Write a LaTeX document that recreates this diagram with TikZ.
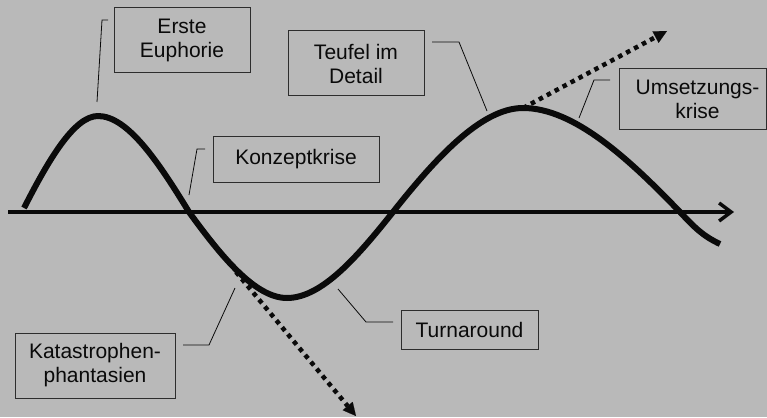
\documentclass[tikz,border=0pt]{standalone}
\usepackage{fontspec}
\setmainfont{Liberation Sans}
\usetikzlibrary{arrows.meta}
\definecolor{bg}{RGB}{185,185,185}
\definecolor{boxline}{RGB}{45,45,45}
\definecolor{ink}{RGB}{10,10,10}
\begin{document}
\begin{tikzpicture}[x=1pt,y=-1pt,
  font=\fontsize{21}{24}\selectfont,
  lbl/.style={draw=boxline, line width=1pt, fill=bg, align=center, inner sep=0pt, text=ink},
  callout/.style={line width=0.8pt, draw=ink},
  wave/.style={line width=6pt, line join=round, draw=ink},
  axisline/.style={line width=3.5pt, draw=ink, -{Straight Barb[length=12pt,width=18pt]}},
  dotarrow/.style={line width=4.5pt, draw=ink, dash pattern=on 4.5pt off 4.5pt,
     -{Triangle[length=13pt,width=13pt,line width=0.1pt]}}]
\fill[bg] (0,0) rectangle (767,417);
\useasboundingbox (0,0) rectangle (767,417);

% boxes
\node[lbl, minimum width=136pt, minimum height=65pt] (ee) at (182,40.5) {Erste\\Euphorie};
\node[lbl, minimum width=136pt, minimum height=65pt] (td) at (356,63.5) {Teufel im\\Detail};
\node[lbl, minimum width=166pt, minimum height=46pt] (kk) at (296,159) {Konzeptkrise};
\node[lbl, minimum width=147pt, minimum height=60pt] (uk) at (692.5,99) {\hspace*{10pt}Umsetzungs-\\\hspace*{10pt}krise};
\node[lbl, minimum width=160pt, minimum height=65pt] (kp) at (95,365.5) {Katastrophen-\\phantasien};
\node[lbl, minimum width=137pt, minimum height=39pt] (ta) at (469.5,329.5) {Turnaround};

% axis
\coordinate (ax0) at (8,212);
\coordinate (ax1) at (734,212);
\draw[axisline] (ax0) -- (ax1);

% wave
\coordinate (w0) at (24,208);
\coordinate (p1) at (98,116);
\coordinate (z1) at (189,212);
\coordinate (t1) at (287,298);
\coordinate (z2) at (393,212);
\coordinate (p2) at (523,108);
\coordinate (z3) at (680,212);
\coordinate (w1) at (720,244);
\draw[wave] (w0) .. controls (48,161) and (74,116) .. (p1)
  .. controls (128,116) and (159,163) .. (z1)
  .. controls (221,256) and (255,298) .. (t1)
  .. controls (322,298) and (358,256) .. (z2)
  .. controls (435,159) and (481,108) .. (p2)
  .. controls (574,108) and (629,159) .. (z3)
  .. controls (695,228) and (703,236) .. (w1);

% dotted arrows
\coordinate (upend) at (667,31);
\coordinate (dnstart) at (236,272);
\coordinate (dnend) at (356,416);
\draw[dotarrow] (p2) -- (upend);
\draw[dotarrow] (dnstart) -- (dnend);

% callouts
\coordinate (ee1) at (97,102); \coordinate (ee2) at (102,20); \coordinate (ee3) at (108,20);
\draw[callout] (ee1) -- (ee2) -- (ee3);
\coordinate (kk1) at (189,195); \coordinate (kk2) at (197,149); \coordinate (kk3) at (205,149);
\draw[callout] (kk1) -- (kk2) -- (kk3);
\coordinate (td1) at (487,111); \coordinate (td2) at (459,42); \coordinate (td3) at (432,42);
\draw[callout] (td1) -- (td2) -- (td3);
\coordinate (uk1) at (579,118); \coordinate (uk2) at (594,80); \coordinate (uk3) at (610,80);
\draw[callout] (uk1) -- (uk2) -- (uk3);
\coordinate (kp1) at (235,288); \coordinate (kp2) at (209,345); \coordinate (kp3) at (183,345);
\draw[callout] (kp1) -- (kp2) -- (kp3);
\coordinate (ta1) at (338,289); \coordinate (ta2) at (366,322); \coordinate (ta3) at (393,322);
\draw[callout] (ta1) -- (ta2) -- (ta3);
\end{tikzpicture}
\end{document}
